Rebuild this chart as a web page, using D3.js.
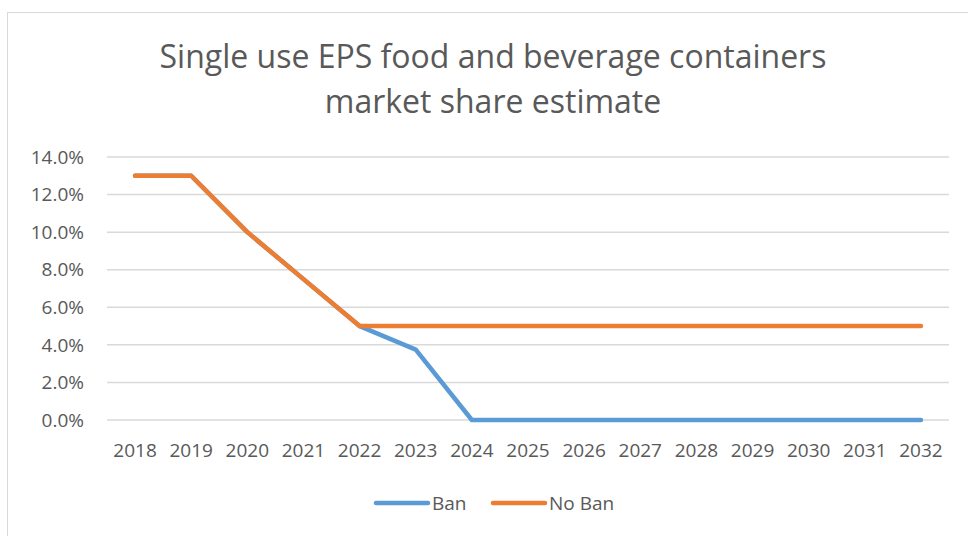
<!DOCTYPE html>
<html>
<head>
<meta charset="utf-8">
<script src="https://cdn.jsdelivr.net/npm/d3@7"></script>
<style>
  body { margin: 0; background: #fff; }
  svg { display: block; font-family: "Open Sans", sans-serif; }
</style>
</head>
<body>
<div id="chart"></div>
<script>
// EPS container market share, ban vs no ban
const years = d3.range(2018, 2033).map(String);
const ban   = [13, 13, 10, 7.5, 5, 3.75, 0, 0, 0, 0, 0, 0, 0, 0, 0];
const noBan = [13, 13, 10, 7.5, 5, 5, 5, 5, 5, 5, 5, 5, 5, 5, 5];
const yTicks = [0, 2, 4, 6, 8, 10, 12, 14];
const titleLines = ["Single use EPS food and beverage containers", "market share estimate"];

const W = 968, H = 536;
const plot = { left: 107, right: 949, top: 157, bottom: 420 };
const grey = "#595959";

const svg = d3.select("#chart").append("svg")
  .attr("width", W).attr("height", H);

// chart frame
svg.append("rect")
  .attr("x", 7.5).attr("y", 12.5).attr("width", W + 20).attr("height", H + 20)
  .attr("fill", "none").attr("stroke", "#d9d9d9").attr("stroke-width", 1);

const x = d3.scaleBand().domain(years).range([plot.left, plot.right]);
const y = d3.scaleLinear().domain([0, 14]).range([plot.bottom, plot.top]);

// gridlines
svg.append("g").selectAll("line")
  .data(yTicks)
  .join("line")
    .attr("x1", plot.left).attr("x2", plot.right)
    .attr("y1", d => y(d)).attr("y2", d => y(d))
    .attr("stroke", "#d9d9d9").attr("stroke-width", 1.5);

// y labels
svg.append("g").selectAll("text")
  .data(yTicks)
  .join("text")
    .attr("x", 84).attr("y", d => y(d))
    .attr("dy", "0.35em")
    .attr("text-anchor", "end")
    .attr("fill", grey).style("font-size", "19px")
    .text(d => d.toFixed(1) + "%");

// x labels
svg.append("g").selectAll("text")
  .data(years)
  .join("text")
    .attr("x", d => x(d) + x.bandwidth() / 2).attr("y", 457)
    .attr("text-anchor", "middle")
    .attr("fill", grey).style("font-size", "19px")
    .text(d => d);

const line = d3.line()
  .x((d, i) => x(years[i]) + x.bandwidth() / 2)
  .y(d => y(d));

const series = [
  { name: "Ban", values: ban, color: "#5b9bd5" },
  { name: "No Ban", values: noBan, color: "#ed7d31" }
];

svg.append("g").selectAll("path")
  .data(series)
  .join("path")
    .attr("d", d => line(d.values))
    .attr("fill", "none")
    .attr("stroke", d => d.color)
    .attr("stroke-width", 4.5)
    .attr("stroke-linejoin", "round")
    .attr("stroke-linecap", "round");

// title
svg.append("g").selectAll("text")
  .data(titleLines)
  .join("text")
    .attr("x", 493).attr("y", (d, i) => 68 + i * 45)
    .attr("text-anchor", "middle")
    .attr("fill", grey).style("font-size", "32px")
    .text(d => d);

// legend
const legendX = [376, 493];
const lg = svg.append("g").selectAll("g")
  .data(series)
  .join("g")
    .attr("transform", (d, i) => `translate(${legendX[i]},503)`);
lg.append("line")
  .attr("x1", 0).attr("x2", 52)
  .attr("stroke", d => d.color).attr("stroke-width", 4.5)
  .attr("stroke-linecap", "round");
lg.append("text")
  .attr("x", 56).attr("dy", "0.35em")
  .attr("fill", grey).style("font-size", "19px")
  .text(d => d.name);
</script>
</body>
</html>
